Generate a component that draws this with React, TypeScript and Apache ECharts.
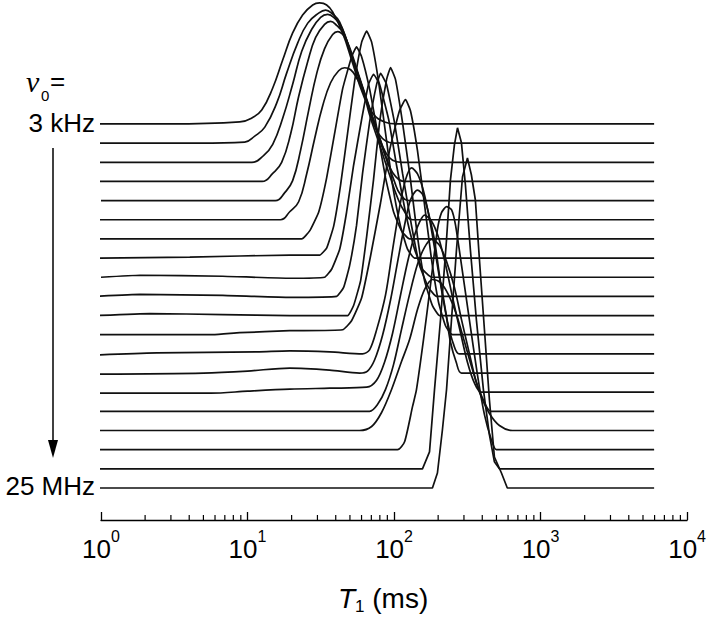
import React, { useEffect, useRef } from "react";
import * as echarts from "echarts";

// ---- data ----
// Each spectrum: pairs [log10(T1 / ms), amplitude (arb. units)], frequency from 3 kHz (first) to 25 MHz (last)
const TOP_LABEL = "3 kHz";
const BOTTOM_LABEL = "25 MHz";
const STACK_STEP = 19.16; // vertical offset between successive spectra (arb. units)
const STACK_BASE = 32; // offset of the lowest spectrum

const MAJOR_EXPONENTS = [0, 1, 2, 3, 4];
const MINOR_TICKS = [
  2, 3, 4, 5, 6, 7, 8, 9, 20, 30, 40, 50, 60, 70, 80, 90, 200, 300, 400, 500, 600, 700, 800, 900,
  2000, 3000, 4000, 5000, 6000, 7000, 8000, 9000,
];

const trace00 = [[-0.027,0],[0.47,0],[0.947,2],[1.029,6],[1.097,14],[1.172,36],[1.24,64],[1.308,91],[1.376,109],[1.445,119],[1.492,121],[1.54,119],[1.581,112],[1.649,91],[1.717,61],[1.785,31],[1.853,11],[1.935,2],[2.017,0],[3.775,0]];
const trace01 = [[-0.027,0],[0.675,0],[0.981,1],[1.049,7],[1.118,16],[1.199,40],[1.267,70],[1.342,100],[1.411,120],[1.485,130],[1.533,133],[1.581,129],[1.629,121],[1.697,93],[1.765,63],[1.833,33],[1.881,13],[1.935,3],[2.003,0],[3.775,0]];
const trace02 = [[-0.02,0],[0.675,0],[1.03,0],[1.111,7],[1.172,18],[1.24,44],[1.308,78],[1.37,111],[1.438,133],[1.499,145],[1.547,148],[1.595,144],[1.643,135],[1.704,110],[1.772,80],[1.84,50],[1.901,24],[1.942,10],[1.99,2],[2.051,0],[3.775,0]];
const trace03 = [[-0.013,0],[0.675,0],[1.1,0],[1.172,8],[1.233,19],[1.295,48],[1.349,85],[1.411,120],[1.465,144],[1.526,157],[1.567,160],[1.608,156],[1.656,148],[1.71,126],[1.779,96],[1.847,66],[1.915,36],[1.969,15],[2.01,5],[2.072,0],[3.775,0]];
const trace04 = [[0,0],[0.675,0],[1.19,0],[1.254,8],[1.308,20],[1.363,51],[1.417,90],[1.472,127],[1.526,152],[1.581,166],[1.615,169],[1.656,165],[1.697,153],[1.751,129],[1.819,99],[1.888,69],[1.956,39],[2.003,19],[2.044,6],[2.106,0],[3.775,0]];
const trace05 = [[-0.034,0],[0.675,0],[1.225,0],[1.288,8],[1.349,18],[1.404,46],[1.458,81],[1.513,114],[1.567,137],[1.622,149],[1.663,152],[1.704,150],[1.744,142],[1.785,130],[1.833,105],[1.901,75],[1.969,45],[2.024,22],[2.072,8],[2.126,0],[3.775,0]];
const trace06 = [[-0.027,0],[1.37,0],[1.424,8],[1.486,27],[1.54,61],[1.595,106],[1.649,150],[1.71,182],[1.744,192],[1.779,182],[1.833,150],[1.888,106],[1.942,61],[1.997,27],[2.051,8],[2.106,0],[3.775,0]];
const trace07 = [[-0.013,0],[0.606,1],[1.288,3],[1.492,3],[1.54,10],[1.588,32],[1.635,73],[1.683,125],[1.731,177],[1.779,216],[1.813,227],[1.847,216],[1.894,177],[1.942,125],[1.99,73],[2.044,32],[2.092,9],[2.14,0],[3.775,0]];
const trace08 = [[0,0],[0.266,2],[0.831,1],[1.288,-1],[1.526,0],[1.574,8],[1.629,28],[1.676,65],[1.724,112],[1.779,158],[1.826,193],[1.86,203],[1.901,193],[1.963,158],[2.017,112],[2.078,65],[2.14,28],[2.194,8],[2.256,0],[3.775,0]];
const trace09 = [[-0.034,0],[0.266,2],[0.831,1],[1.288,-1],[1.608,0],[1.656,9],[1.697,31],[1.744,71],[1.785,123],[1.833,174],[1.881,212],[1.908,223],[1.949,212],[2.003,174],[2.058,123],[2.119,71],[2.174,31],[2.235,9],[2.29,0],[3.775,0]];
const trace10 = [[-0.027,0],[0.334,2],[0.831,1],[1.288,0],[1.683,0],[1.724,10],[1.772,35],[1.813,79],[1.86,136],[1.901,193],[1.949,236],[1.976,248],[2.01,236],[2.058,193],[2.112,136],[2.16,79],[2.208,35],[2.262,10],[2.31,0],[3.775,0]];
const trace11 = [[-0.027,0],[0.763,0],[0.947,2],[1.288,4],[1.649,5],[1.71,14],[1.779,37],[1.84,79],[1.908,132],[1.969,184],[2.037,224],[2.078,235],[2.112,224],[2.16,184],[2.208,130],[2.256,75],[2.303,33],[2.351,9],[2.399,0],[3.775,0]];
const trace12 = [[-0.02,-1],[0.382,1],[1.063,2],[1.288,3],[1.56,2],[1.785,0],[1.833,4],[1.881,24],[1.942,59],[1.99,104],[2.037,146],[2.078,174],[2.119,186],[2.16,180],[2.201,163],[2.242,135],[2.283,100],[2.324,64],[2.365,32],[2.405,10],[2.446,0],[3.775,0]];
const trace13 = [[-0.007,-1],[0.7,0],[1.0,2],[1.288,5],[1.56,3],[1.765,0],[1.819,2],[1.867,13],[1.922,38],[1.976,73],[2.024,111],[2.072,148],[2.112,173],[2.16,183],[2.201,177],[2.235,160],[2.276,133],[2.31,98],[2.351,63],[2.385,31],[2.426,10],[2.46,0],[3.775,0]];
const trace14 = [[-0.041,-1],[0.75,-1],[1.0,1],[1.288,3],[1.56,4],[1.813,5],[1.881,12],[1.935,30],[1.99,59],[2.044,97],[2.092,130],[2.14,157],[2.174,170],[2.208,177],[2.256,171],[2.303,155],[2.351,128],[2.399,95],[2.453,60],[2.501,30],[2.549,9],[2.596,0],[3.775,0]];
const trace15 = [[-0.034,0],[1.833,0],[1.888,7],[1.942,22],[1.997,47],[2.051,82],[2.106,117],[2.16,147],[2.208,164],[2.256,172],[2.31,166],[2.358,150],[2.412,124],[2.46,92],[2.514,58],[2.562,29],[2.617,9],[2.664,0],[3.775,0]];
const trace16 = [[-0.027,0],[1.765,0],[1.847,4],[1.915,18],[1.983,41],[2.051,69],[2.106,91],[2.16,121],[2.208,141],[2.262,151],[2.317,148],[2.371,136],[2.426,116],[2.48,89],[2.535,61],[2.589,36],[2.651,17],[2.719,5],[2.807,0],[3.775,0]];
const trace17 = [[-0.02,0],[2.024,0],[2.072,8],[2.126,43],[2.153,60],[2.201,110],[2.249,165],[2.296,220],[2.324,237],[2.358,243],[2.392,240],[2.419,225],[2.46,185],[2.514,130],[2.569,75],[2.617,35],[2.664,10],[2.698,0],[3.775,0]];
const trace18 = [[-0.007,0],[2.194,0],[2.242,17],[2.276,79],[2.317,149],[2.358,229],[2.385,289],[2.412,324],[2.433,341],[2.46,326],[2.487,284],[2.521,219],[2.562,149],[2.61,79],[2.651,34],[2.685,7],[2.719,0],[3.775,0]];
const trace19 = [[-0.027,0],[2.262,0],[2.296,15],[2.33,58],[2.358,98],[2.392,168],[2.426,238],[2.467,311],[2.501,330],[2.528,313],[2.555,288],[2.583,228],[2.617,158],[2.651,88],[2.685,31],[2.733,15],[2.773,0],[3.775,0]];

const SPECTRA = [
  trace00, trace01, trace02, trace03, trace04, trace05, trace06, trace07, trace08, trace09,
  trace10, trace11, trace12, trace13, trace14, trace15, trace16, trace17, trace18, trace19,
];
const SMOOTHING = [
  0.45, 0.45, 0.45, 0.45, 0.45, 0.45, 0.12, 0.12, 0.12, 0.12,
  0.12, 0.15, 0.3, 0.3, 0.3, 0.3, 0.3, 0.2, 0, 0,
];

const SANS = "'Liberation Sans', Arial, Helvetica, sans-serif";
const SERIF = "'Liberation Serif', 'Times New Roman', serif";

export default function App() {
  const ref = useRef<HTMLDivElement>(null);
  useEffect(() => {
    const chart = echarts.init(ref.current!, null, { renderer: "svg" });
    const n = SPECTRA.length;
    const lineSeries = SPECTRA.map((pts, i) => {
      const offset = STACK_BASE + (n - 1 - i) * STACK_STEP;
      return {
        type: "line",
        data: pts.map(([lg, a]) => [Math.pow(10, lg), offset + a]),
        showSymbol: false,
        symbol: "none",
        smooth: SMOOTHING[i],
        clip: false,
        silent: true,
        lineStyle: { color: "#111", width: 1.7 },
        z: 2,
      };
    });
    const minorTicks = {
      type: "custom",
      data: MINOR_TICKS.map((v) => [v, 0]),
      clip: false,
      silent: true,
      z: 5,
      renderItem: (_params: any, api: any) => {
        const p = api.coord([api.value(0), 0]);
        return {
          type: "line",
          shape: { x1: p[0], y1: p[1], x2: p[0], y2: p[1] - 5 },
          style: { stroke: "#000", lineWidth: 1.2 },
        };
      },
    };
    chart.setOption({
      animation: false,
      backgroundColor: "#fff",
      grid: { left: 101, right: 21, top: 0, bottom: 102 },
      xAxis: {
        type: "log",
        logBase: 10,
        min: Math.pow(10, MAJOR_EXPONENTS[0]),
        max: Math.pow(10, MAJOR_EXPONENTS[MAJOR_EXPONENTS.length - 1]),
        axisLine: { show: true, lineStyle: { color: "#000", width: 1.3 } },
        axisTick: { show: true, inside: true, length: 8, lineStyle: { color: "#000", width: 1.3 } },
        splitLine: { show: false },
        axisLabel: {
          margin: 8,
          formatter: (v: number) => `{b|10}{s|${Math.round(Math.log10(v))}}`,
          rich: {
            b: { fontSize: 26, fontFamily: SANS, color: "#000", padding: [8, 0, 0, 0], verticalAlign: "top" },
            s: { fontSize: 16, fontFamily: SANS, color: "#000", verticalAlign: "top" },
          },
        },
        name: "{t|T}{s|1}{n| (ms)}",
        nameLocation: "middle",
        nameGap: 64,
        nameTextStyle: {
          padding: [0, 22, 0, 0],
          rich: {
            t: { fontSize: 28, fontFamily: SANS, fontStyle: "italic", color: "#000", verticalAlign: "top" },
            s: { fontSize: 17, fontFamily: SANS, color: "#000", padding: [14, 0, 0, 0], verticalAlign: "top" },
            n: { fontSize: 28, fontFamily: SANS, color: "#000", verticalAlign: "top" },
          },
        },
      },
      yAxis: { type: "value", min: 0, max: 520, show: false },
      series: [...lineSeries, minorTicks],
      graphic: [
        { type: "text", x: 26, y: 81, style: { text: "ν", font: `italic 30px ${SERIF}`, fill: "#000", align: "left", verticalAlign: "middle" } },
        { type: "text", x: 41, y: 95, style: { text: "0", font: `15px ${SANS}`, fill: "#000", align: "left", verticalAlign: "middle" } },
        { type: "text", x: 50, y: 81, style: { text: "=", font: `26px ${SANS}`, fill: "#000", align: "left", verticalAlign: "middle" } },
        { type: "text", x: 95, y: 123, style: { text: TOP_LABEL, font: `26px ${SANS}`, fill: "#000", align: "right", verticalAlign: "middle" } },
        { type: "text", x: 95, y: 486, style: { text: BOTTOM_LABEL, font: `26px ${SANS}`, fill: "#000", align: "right", verticalAlign: "middle" } },
        { type: "line", shape: { x1: 53, y1: 148, x2: 53, y2: 445 }, style: { stroke: "#000", lineWidth: 1.5 } },
        { type: "polygon", shape: { points: [[48, 440], [58, 440], [53, 458]] }, style: { fill: "#000" } },
      ],
    });
    return () => chart.dispose();
  }, []);
  return <div ref={ref} style={{ position: "absolute", left: 0, top: 0, width: 709, height: 622 }} />;
}
